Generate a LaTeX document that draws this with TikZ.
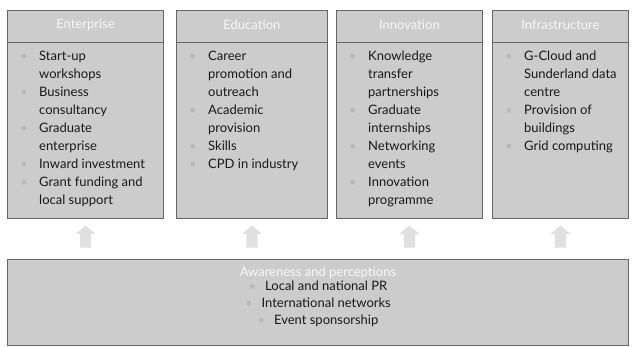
\documentclass[tikz,border=0pt]{standalone}
\usepackage{fontspec}
\setmainfont{Lato}
\usetikzlibrary{shapes.arrows,calc}
\definecolor{boxfill}{gray}{0.80}
\definecolor{boxline}{gray}{0.40}
\definecolor{headtext}{gray}{0.97}
\definecolor{bodytext}{gray}{0.10}
\definecolor{arrowfill}{gray}{0.88}
\newcommand{\bul}{\textcolor{gray!55}{\textbullet}}
\tikzset{
  panel/.style={draw=boxline, line width=0.9pt, fill=boxfill, anchor=north west, inner sep=0pt},
  headtxt/.style={text=headtext, inner sep=0pt},
  bodytxt/.style={text=bodytext, anchor=north west, inner sep=0pt},
  uparrow/.style={single arrow, shape border rotate=90, fill=arrowfill, draw=none,
    minimum height=22pt, inner sep=5.5pt, single arrow head extend=4.5pt,
    single arrow tip angle=100},
}
\begin{document}
\begin{tikzpicture}[x=1pt,y=-1pt, font=\fontsize{13}{18}\selectfont]
\useasboundingbox (0,0) rectangle (632,347);
\fill[white] (0,0) rectangle (632,347);

% top panels
\node[panel, minimum width=156pt, minimum height=208pt] (ent) at (7,10) {};
\node[panel, minimum width=151pt, minimum height=208pt] (edu) at (176,10) {};
\node[panel, minimum width=146pt, minimum height=208pt] (inn) at (336,10) {};
\node[panel, minimum width=136pt, minimum height=208pt] (inf) at (492,10) {};

\foreach \b in {ent,edu,inn,inf}{
  \draw[boxline, line width=0.9pt] ([yshift=-32pt]\b.north west) -- ([yshift=-32pt]\b.north east);
}

\node[headtxt] (enth) at ([yshift=-15pt]ent.north) {Enterprise};
\node[headtxt] (eduh) at ([yshift=-15pt]edu.north) {Education};
\node[headtxt] (innh) at ([yshift=-15pt]inn.north) {Innovation};
\node[headtxt] (infh) at ([yshift=-15pt]inf.north) {Infrastructure};

\node[bodytxt] (entb) at (20,48) {\begin{tabular}{@{}p{19pt}@{}l@{}}
\bul & Start-up\\ & workshops\\
\bul & Business\\ & consultancy\\
\bul & Graduate\\ & enterprise\\
\bul & Inward investment\\
\bul & Grant funding and\\ & local support
\end{tabular}};

\node[bodytxt] (edub) at (189,48) {\begin{tabular}{@{}p{19pt}@{}l@{}}
\bul & Career\\ & promotion and\\ & outreach\\
\bul & Academic\\ & provision\\
\bul & Skills\\
\bul & CPD in industry
\end{tabular}};

\node[bodytxt] (innb) at (349,48) {\begin{tabular}{@{}p{19pt}@{}l@{}}
\bul & Knowledge\\ & transfer\\ & partnerships\\
\bul & Graduate\\ & internships\\
\bul & Networking\\ & events\\
\bul & Innovation\\ & programme
\end{tabular}};

\node[bodytxt] (infb) at (505,48) {\begin{tabular}{@{}p{19pt}@{}l@{}}
\bul & G-Cloud and\\ & Sunderland data\\ & centre\\
\bul & Provision of\\ & buildings\\
\bul & Grid computing
\end{tabular}};

% bottom panel
\node[panel, minimum width=621pt, minimum height=86pt] (bot) at (7,259) {};
\node[headtxt] (both) at ([yshift=-13.5pt]bot.north) {Awareness and perceptions};
\node[text=bodytext, inner sep=0pt, anchor=north, align=center,
      font=\fontsize{13}{17}\selectfont] (botb) at ([yshift=-22pt]bot.north)
  {\bul\hspace{9pt}Local and national PR\\
   \bul\hspace{9pt}International networks\\
   \bul\hspace{9pt}Event sponsorship};

% arrows
\foreach \b/\n in {ent/a1,edu/a2,inn/a3,inf/a4}{
  \node[uparrow] (\n) at ($(\b.south)!0.5!(\b.south |- bot.north)$) {};
}
\end{tikzpicture}
\end{document}
